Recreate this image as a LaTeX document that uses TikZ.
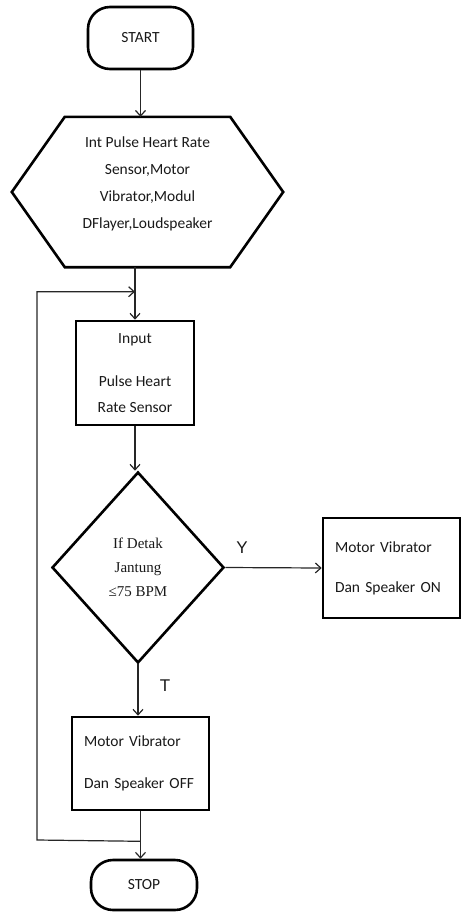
\documentclass[tikz,border=0pt]{standalone}
\usepackage{fontspec}
\setmainfont{Carlito}
\newfontfamily\detakfont{Liberation Serif}
\newfontfamily\labelfont{Liberation Sans}
\usetikzlibrary{arrows.meta,shapes.geometric}

\tikzset{
    boxline/.style={draw=black,line width=2.6pt},
    terminal/.style={boxline,rounded corners=22pt,minimum width=105pt,text=black!90,
        font=\fontsize{15.5}{18}\selectfont},
    procbox/.style={boxline,rectangle,minimum width=137pt,minimum height=100pt,text=black!90,
        font=\fontsize{15.5}{26}\selectfont},
    flowline/.style={line width=1.2pt,draw=black!85,-{Straight Barb[length=5.5pt,width=10pt]}},
    yesno/.style={text=black!90,font=\labelfont\fontsize{17}{20}\selectfont}
}

\begin{document}
\begin{tikzpicture}[x=1pt,y=-1pt]
    \useasboundingbox (0,0) rectangle (462,913);

    \node[terminal,minimum height=62pt] (start) at (140.5,38) {START};

    \node[minimum width=271pt,minimum height=150pt] (init) at (147.5,192) {};
    \draw[boxline] (init.west) -- ([xshift=53pt]init.north west) -- ([xshift=-53pt]init.north east)
        -- (init.east) -- ([xshift=-53pt]init.south east) -- ([xshift=53pt]init.south west) -- cycle;
    \node[align=center,text=black!90,font=\fontsize{15.5}{27}\selectfont] (initText) at (147.5,184)
        {Int Pulse Heart Rate\\Sensor,Motor\\Vibrator,Modul\\DFlayer,Loudspeaker};

    \node[procbox,minimum width=118pt,minimum height=104pt,align=center] (input) at (135,373)
        {Input\\[17pt]Pulse Heart\\Rate Sensor};

    \node[diamond,boxline,minimum width=172pt,minimum height=191pt,inner sep=0pt,aspect=0.9,
        align=center,text=black!90,font=\detakfont\fontsize{15}{24}\selectfont] (cek) at (138,567.5)
        {If Detak\\Jantung\\≤75 BPM};

    \node[procbox,minimum height=100pt,text width=113pt,align=left] (on) at (391.5,568)
        {Motor Vibrator\\[14pt]Dan Speaker ON};
    \node[procbox,minimum height=93pt,text width=113pt,align=left] (off) at (140.5,763.5)
        {Motor Vibrator\\[16pt]Dan Speaker OFF};

    \node[terminal,minimum height=50pt,minimum width=106pt] (stop) at (144,885) {STOP};

    \node[yesno] (ya) at (242,548) {Y};
    \node[yesno] (tidak) at (165,686) {T};

    \coordinate (join) at ([yshift=28pt]input.north);
    \coordinate (tap) at ([yshift=-30pt]off.south);
    \coordinate (back) at (37,840);

    \draw[flowline] (start.south) -- (start.south |- init.north);
    \draw[flowline] (input.north |- init.south) -- (input.north);
    \draw[flowline] (input.south) -- (input.south |- cek.north);
    \draw[flowline] (cek.east) -- (on.west);
    \draw[flowline] (cek.south) -- (cek.south |- off.north);
    \draw[flowline] (off.south) -- (off.south |- stop.north);
    \draw[flowline] (tap) -- (back) |- (join);
\end{tikzpicture}
\end{document}
